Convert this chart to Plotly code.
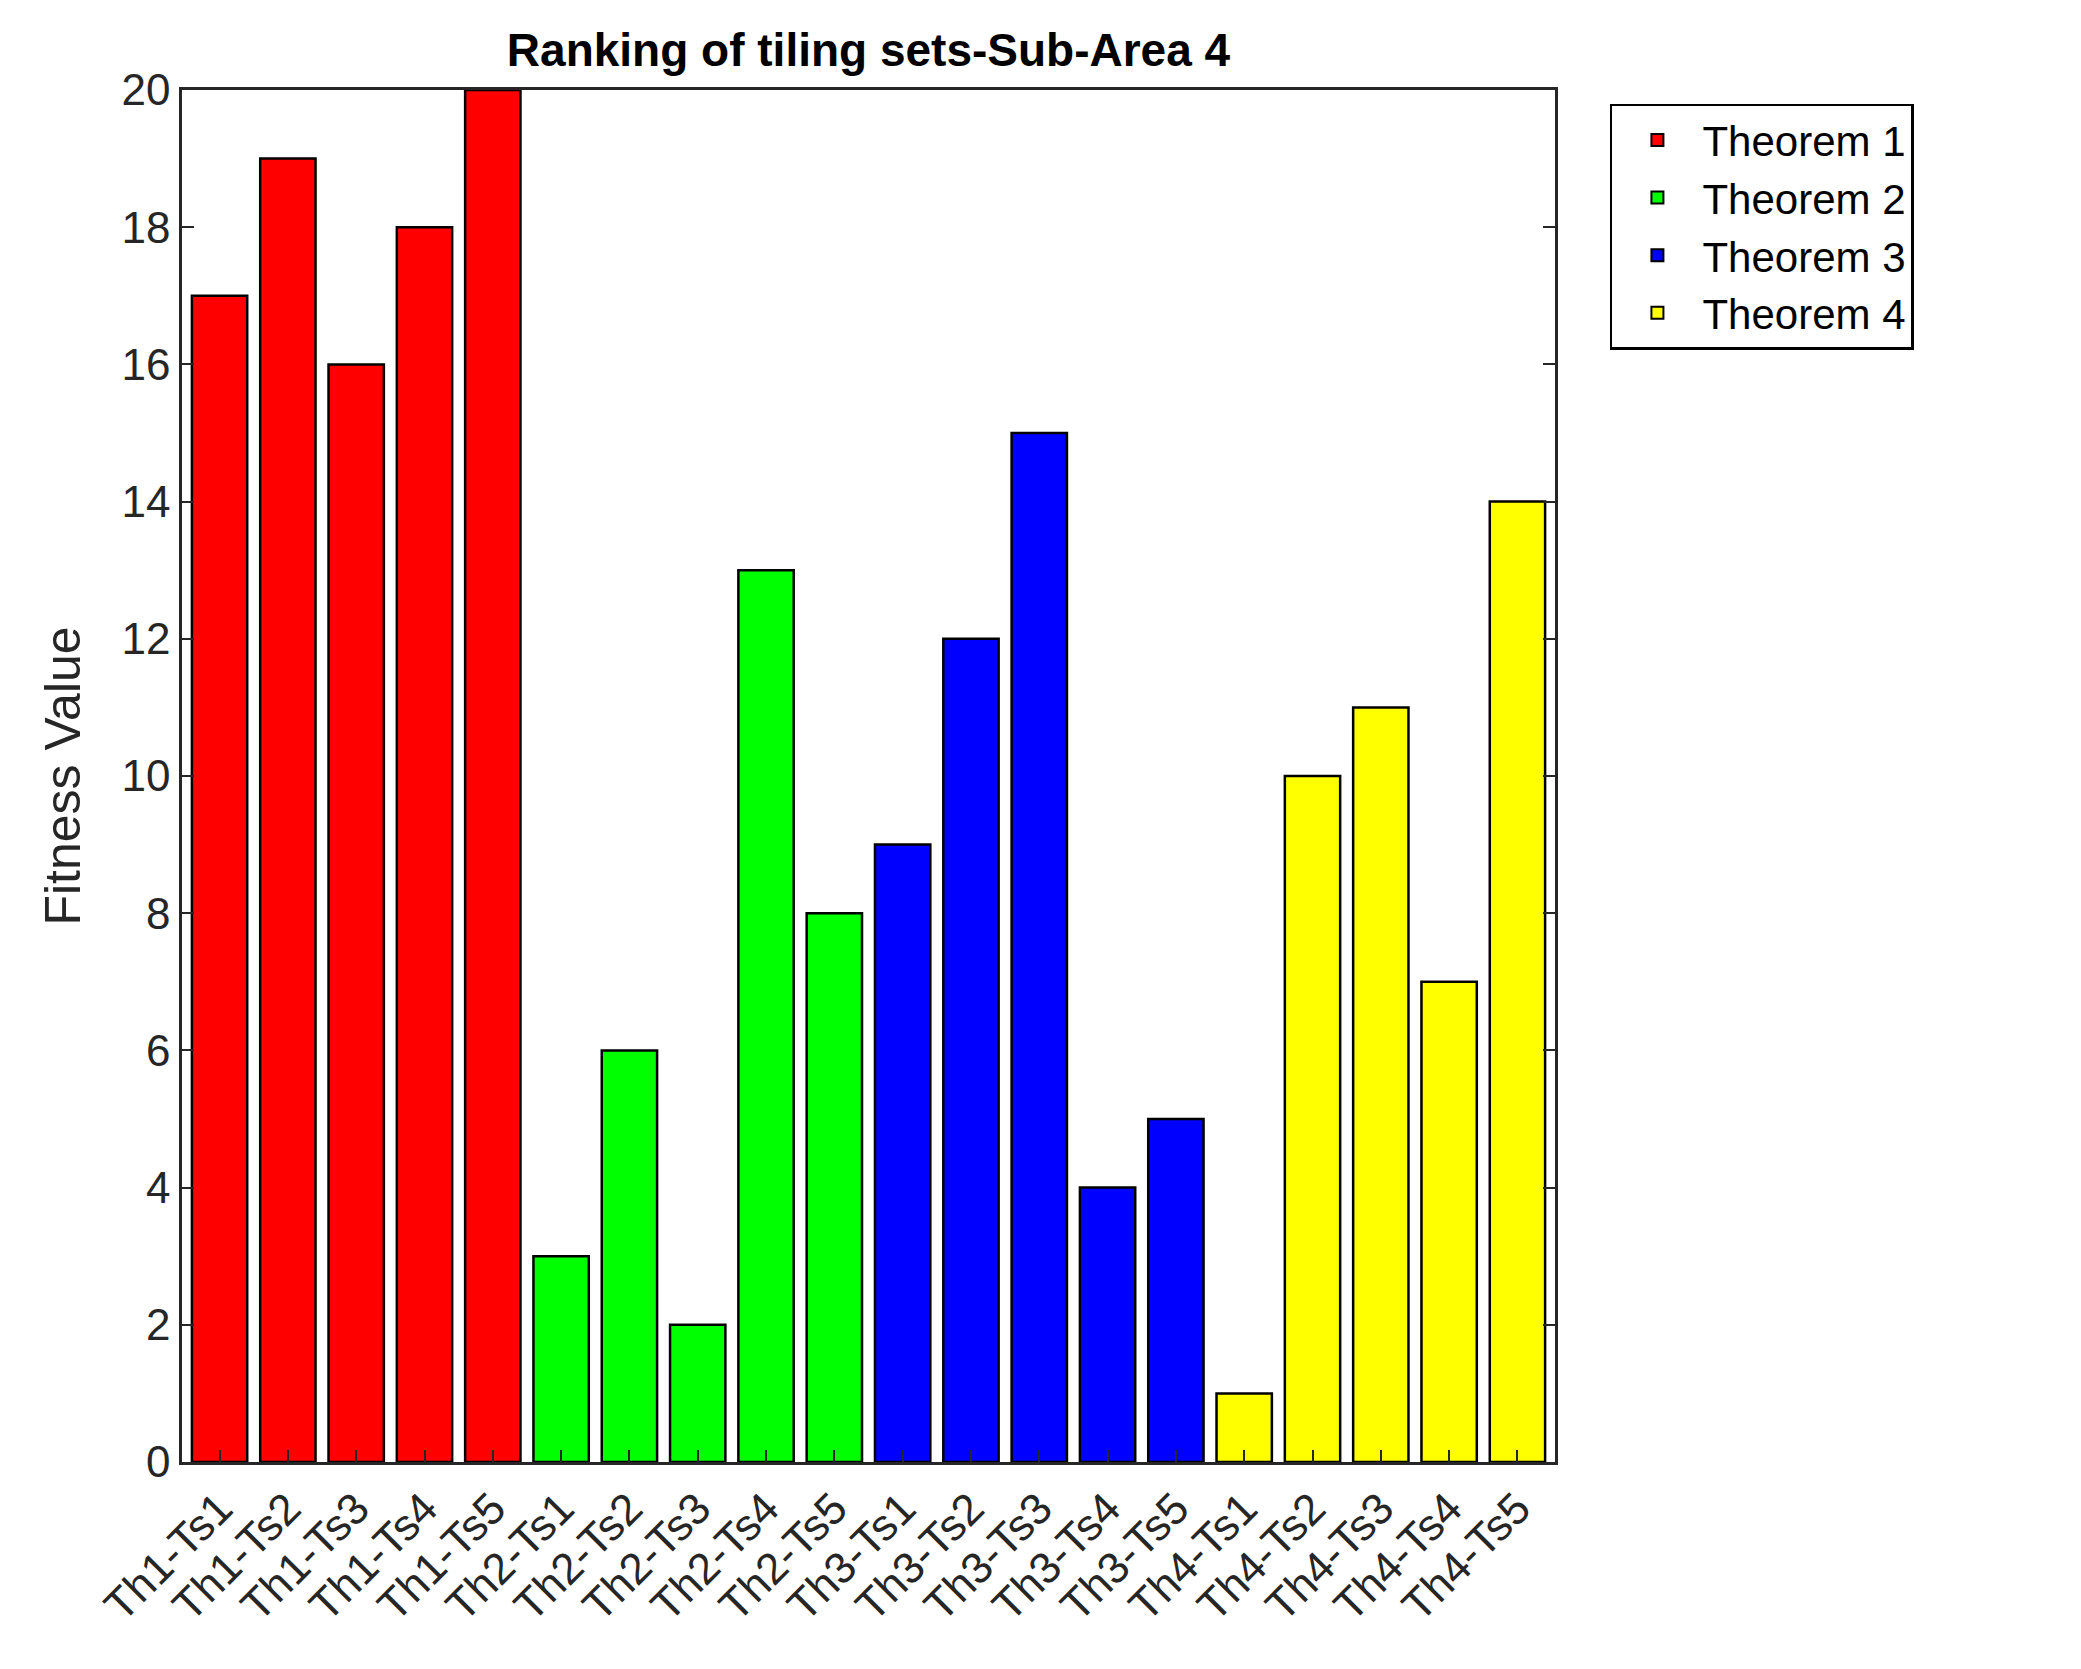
import plotly.graph_objects as go

categories = [f"Th{t}-Ts{s}" for t in range(1, 5) for s in range(1, 6)]
theorems = ["Theorem 1", "Theorem 2", "Theorem 3", "Theorem 4"]
values = {
    "Theorem 1": [17, 19, 16, 18, 20],
    "Theorem 2": [3, 6, 2, 13, 8],
    "Theorem 3": [9, 12, 15, 4, 5],
    "Theorem 4": [1, 10, 11, 7, 14],
}
colors = ["#ff0000", "#00ff00", "#0000ff", "#ffff00"]

fig = go.Figure()
for i, th in enumerate(theorems):
    fig.add_bar(x=categories[i*5:(i+1)*5], y=values[th], name=th,
                marker=dict(color=colors[i], line=dict(color="black", width=2.5)))

font = "Liberation Sans, Arial, sans-serif"
fig.update_layout(
    width=2081, height=1669, barmode="overlay", bargap=0.19,
    paper_bgcolor="white", plot_bgcolor="white",
    margin=dict(l=174, r=534, t=82, b=215),
    font=dict(family=font, size=44, color="#262626"),
    title=dict(text="<b>Ranking of tiling sets-Sub-Area 4</b>", x=0.5, xref="paper",
               xanchor="center", y=0.975, yanchor="middle", font=dict(size=46, color="black")),
    legend=dict(x=1.04, y=0.99, xanchor="left", yanchor="top", bordercolor="black",
                borderwidth=2.5, bgcolor="white", font=dict(size=42, color="black"),
                itemwidth=80, itemsizing="constant"),
    showlegend=True,
)
fig.update_xaxes(categoryorder="array", categoryarray=categories, tickangle=-45,
                 showline=True, linecolor="#262626", linewidth=2.5, mirror=True,
                 ticks="inside", ticklen=12, tickwidth=2, tickcolor="#262626",
                 showgrid=False, range=[-0.55, 19.55])
fig.update_yaxes(range=[0, 20], dtick=2, showline=True, linecolor="#262626", linewidth=2.5,
                 mirror="ticks", ticks="inside", ticklen=12, tickwidth=2, tickcolor="#262626",
                 showgrid=False, zeroline=False,
                 title=dict(text="Fitness Value", font=dict(size=50), standoff=25))
fig.write_html("out.html")
